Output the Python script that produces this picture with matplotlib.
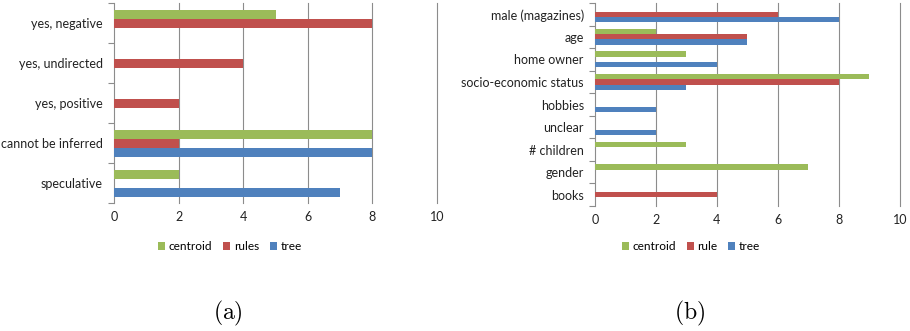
import matplotlib
matplotlib.use("Agg")
import matplotlib.pyplot as plt
from matplotlib.patches import Patch
import numpy as np

plt.rcParams['font.family'] = ['Lato', 'DejaVu Sans']
plt.rcParams['mathtext.fontset'] = 'cm'

# Panel (a)
cats_a = ["yes, negative", "yes, undirected", "yes, positive", "cannot be inferred", "speculative"]
centroid_a = [5, 0, 0, 8, 2]
rules_a = [8, 4, 2, 2, 0]
tree_a = [0, 0, 0, 8, 7]
legend_a = ["centroid", "rules", "tree"]

# Panel (b)
cats_b = ["male (magazines)", "age", "home owner", "socio-economic status", "hobbies",
          "unclear", "# children", "gender", "books"]
centroid_b = [0, 2, 3, 9, 0, 0, 3, 7, 0]
rule_b = [6, 5, 0, 8, 0, 0, 0, 0, 4]
tree_b = [8, 5, 4, 3, 2, 2, 0, 0, 0]
legend_b = ["centroid", "rule", "tree"]

xticks = [0, 2, 4, 6, 8, 10]

GREEN = "#9BBB59"
RED = "#C0504D"
BLUE = "#4F81BD"
GRID = "#8C8C8C"
FS = 8.6

fig = plt.figure(figsize=(9.1, 3.31), dpi=100)

def panel(rect, cats, series, h):
    ax = fig.add_axes(rect)
    n = len(cats)
    y = np.arange(n)[::-1].astype(float)
    colors = [GREEN, RED, BLUE]
    offsets = [h, 0, -h]
    for vals, c, off in zip(series, colors, offsets):
        ax.barh(y + off, vals, height=h, color=c, zorder=3, linewidth=0)
    ax.set_xlim(0, 10)
    ax.set_ylim(-0.5, n - 0.5)
    ax.set_xticks(xticks)
    ax.set_xticklabels([str(t) for t in xticks], fontsize=FS + 0.4, color="#222222")
    ax.tick_params(axis='x', length=0, pad=6)
    ax.set_yticks(y)
    ax.set_yticklabels(cats, fontsize=FS + 0.4, color="#222222")
    ax.tick_params(axis='y', which='major', length=0, pad=8)
    ax.set_yticks(np.arange(n + 1) - 0.5, minor=True)
    ax.tick_params(axis='y', which='minor', length=4, color=GRID, width=0.8)
    for s in ['top', 'right', 'bottom']:
        ax.spines[s].set_visible(False)
    ax.spines['left'].set_color(GRID)
    ax.spines['left'].set_linewidth(0.8)
    for t in xticks[1:]:
        ax.axvline(t, color=GRID, linewidth=0.8, zorder=1, clip_on=False)
    return ax

panel([0.1253, 0.3867, 0.3549, 0.6042], cats_a, [centroid_a, rules_a, tree_a], 0.225)
panel([0.6538, 0.3776, 0.3352, 0.6133], cats_b, [centroid_b, rule_b, tree_b], 0.235)

def legend(labels, xc):
    handles = [Patch(facecolor=c, edgecolor='none') for c in [GREEN, RED, BLUE]]
    fig.legend(handles, labels, loc='center', bbox_to_anchor=(xc, 1 - 247 / 331), ncol=3,
               frameon=False, fontsize=FS, handlelength=0.6, handleheight=0.6,
               handletextpad=0.3, columnspacing=0.9)

legend(legend_a, 230 / 910)
legend(legend_b, 691 / 910)

fig.text(228 / 910, 1 - 313 / 331, r"$\mathrm{(a)}$", ha='center', va='center', fontsize=17)
fig.text(690 / 910, 1 - 313 / 331, r"$\mathrm{(b)}$", ha='center', va='center', fontsize=17)

fig.savefig("out.png", dpi=100, facecolor="white")
